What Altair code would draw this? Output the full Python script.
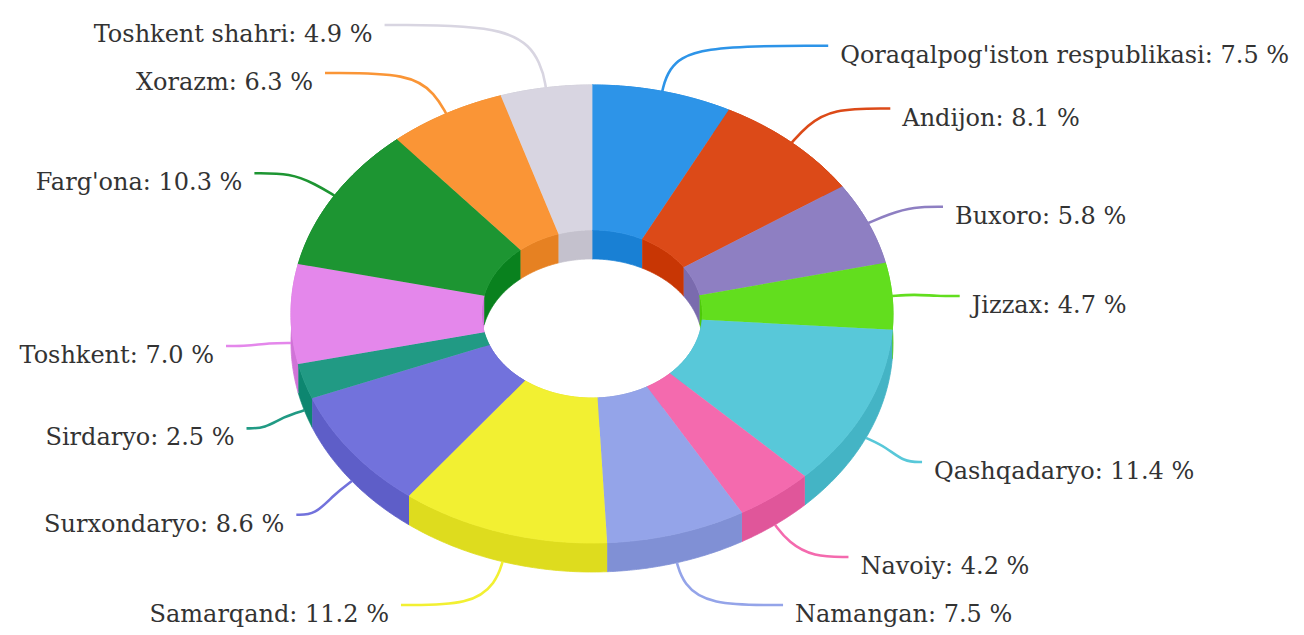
import math
import pandas as pd
import altair as alt

# ---------------- data ----------------
categories = ["Qoraqalpog'iston respublikasi", "Andijon", "Buxoro", "Jizzax",
              "Qashqadaryo", "Navoiy", "Namangan", "Samarqand", "Surxondaryo",
              "Sirdaryo", "Toshkent", "Farg'ona", "Xorazm", "Toshkent shahri"]
shares = [7.5, 8.1, 5.8, 4.7, 11.4, 4.2, 7.5, 11.2, 8.6, 2.5, 7.0, 10.3, 6.3, 4.9]
colors = ["#2d94e8", "#dc4a18", "#8e7fc2", "#62de1e", "#58c8d9", "#f46aae",
          "#94a4e9", "#f2f032", "#7272dc", "#219a84", "#e487eb", "#1d9532",
          "#fa9536", "#d8d5e1"]

# ---------------- layout / style ----------------
W, H = 1288, 619
UNIT = 301.0          # px per unit (outer x-radius)
CX, CY = 584.0, 306.0 # centre of top face, px in view
RY = 229.0 / UNIT     # vertical squash of the tilted ring
INNER = 0.367         # inner radius ratio
DEPTH = 29.0 / UNIT   # thickness of the ring
N = 60                # points per arc
FONT = "DejaVu Serif"
FSIZE = 24
MIN_GAP = 48.0
FRONT_SHIFT = 28.0


def darker(hexc, d=20):
    r, g, b = (int(hexc[i:i + 2], 16) for i in (1, 3, 5))
    return "#%02x%02x%02x" % (max(r - d, 0), max(g - d, 0), max(b - d, 0))


side_colors = [darker(c) for c in colors]

total = sum(shares)
starts, ends = [], []
acc = 0.0
for v in shares:
    starts.append(acc / total)
    acc += v
    ends.append(acc / total)

# polygon skeleton table: (slice, part, point index); geometry computed by Vega-Lite
poly_rows = []
for i, c in enumerate(categories):
    for part in ("outer", "inner", "top"):
        for k in range(2 * N + 2):
            poly_rows.append({
                "poly": f"{i}-{part}", "part": part, "k": k,
                "start": starts[i], "end": ends[i],
                "fillc": colors[i] if part == "top" else side_colors[i],
            })
poly = pd.DataFrame(poly_rows)

# ---------------- labels & connectors ----------------
lab = []
for i, c in enumerate(categories):
    a = 2 * math.pi * (starts[i] + ends[i]) / 2
    s, co = math.sin(a), math.cos(a)
    y = CY + 14 - 280 * co + (FRONT_SHIFT if co < 0 else 0)
    lab.append({"i": i, "a": a, "s": s, "co": co, "side": "R" if s >= 0 else "L", "y": y})

Y_MIN, Y_MAX = 16, H - 12
for side in ("R", "L"):
    items = sorted([d for d in lab if d["side"] == side], key=lambda d: d["y"])
    upper = [d for d in items if d["y"] < CY]
    lower = [d for d in items if d["y"] >= CY]
    for j in range(len(upper) - 2, -1, -1):
        if upper[j]["y"] > upper[j + 1]["y"] - MIN_GAP:
            upper[j]["y"] = upper[j + 1]["y"] - MIN_GAP
    for j in range(1, len(upper)):
        upper[0]["y"] = max(upper[0]["y"], Y_MIN)
        if upper[j]["y"] < upper[j - 1]["y"] + MIN_GAP:
            upper[j]["y"] = upper[j - 1]["y"] + MIN_GAP
    for j in range(1, len(lower)):
        if lower[j]["y"] < lower[j - 1]["y"] + MIN_GAP:
            lower[j]["y"] = lower[j - 1]["y"] + MIN_GAP
    if lower:
        lower[-1]["y"] = min(lower[-1]["y"], Y_MAX)
        for j in range(len(lower) - 2, -1, -1):
            if lower[j]["y"] > lower[j + 1]["y"] - MIN_GAP:
                lower[j]["y"] = lower[j + 1]["y"] - MIN_GAP
for d in lab:
    d["y"] = min(max(d["y"], Y_MIN), Y_MAX)


def ux(px):
    return (px - CX) / UNIT


def uy(py):
    return (CY - py) / UNIT


text_rows, conn_rows = [], []
for d in lab:
    i = d["i"]
    dirn = 1 if d["side"] == "R" else -1
    dy = d["y"] - CY - 6
    xo = 380 * math.sqrt(max(0.0, 1 - (dy / 349) ** 2))
    tx = CX + dirn * xo
    text_rows.append({"label": f"{categories[i]}: {shares[i]:.1f} %", "side": d["side"],
                      "x": ux(tx), "y": uy(d["y"])})
    s, co = d["s"], d["co"]
    sx = CX + UNIT * s
    sy = CY - 229 * co + (29 if co < 0 else 0)
    p1x, p1y = sx + 22 * s, sy - 22 * co
    ex, ey = tx - dirn * 12, d["y"] - 10
    mx = p1x + dirn * min(25, abs(ex - p1x) / 2)
    for j, (px, py) in enumerate([(sx, sy), (p1x, p1y), (mx, ey), (ex, ey)]):
        conn_rows.append({"cat": categories[i], "j": j, "x": ux(px), "y": uy(py), "col": colors[i]})

texts = pd.DataFrame(text_rows)
conns = pd.DataFrame(conn_rows)

xs = alt.Scale(domain=[ux(0), ux(W)], nice=False, zero=False)
ys = alt.Scale(domain=[uy(H), uy(0)], nice=False, zero=False)

base = alt.Chart(poly).transform_calculate(
    t=f"datum.k <= {N} ? datum.k / {N} : ({2 * N + 1} - datum.k) / {N}"
).transform_calculate(
    ang="2 * PI * (datum.start + (datum.end - datum.start) * datum.t)",
    r=f"datum.part == 'inner' ? {INNER} : (datum.part == 'outer' ? 1 : (datum.k <= {N} ? 1 : {INNER}))",
    dz=f"datum.part == 'top' ? 0 : (datum.k <= {N} ? 0 : {DEPTH})",
).transform_calculate(
    px="datum.r * sin(datum.ang)",
    py=f"datum.r * {RY} * cos(datum.ang) - datum.dz",
)

enc = dict(
    x=alt.X("px:Q", scale=xs, axis=None),
    y=alt.Y("py:Q", scale=ys, axis=None),
    order=alt.Order("k:Q"),
    detail=alt.Detail("poly:N"),
    fill=alt.Fill("fillc:N", scale=None),
    stroke=alt.Stroke("fillc:N", scale=None),
)

walls = base.transform_filter("datum.part != 'top'").mark_line(
    filled=True, strokeWidth=0.8).encode(**enc)
tops = base.transform_filter("datum.part == 'top'").mark_line(
    filled=True, strokeWidth=0.8).encode(**enc)

connectors = alt.Chart(conns).mark_line(interpolate="basis", strokeWidth=2.6).encode(
    x=alt.X("x:Q", scale=xs, axis=None),
    y=alt.Y("y:Q", scale=ys, axis=None),
    order=alt.Order("j:Q"),
    detail=alt.Detail("cat:N"),
    stroke=alt.Stroke("col:N", scale=None),
)

text_r = alt.Chart(texts).transform_filter("datum.side == 'R'").mark_text(
    align="left", baseline="middle", font=FONT, fontSize=FSIZE, color="#333333").encode(
    x=alt.X("x:Q", scale=xs, axis=None), y=alt.Y("y:Q", scale=ys, axis=None), text="label:N")
text_l = alt.Chart(texts).transform_filter("datum.side == 'L'").mark_text(
    align="right", baseline="middle", font=FONT, fontSize=FSIZE, color="#333333").encode(
    x=alt.X("x:Q", scale=xs, axis=None), y=alt.Y("y:Q", scale=ys, axis=None), text="label:N")

chart = alt.layer(walls, tops, connectors, text_r, text_l).properties(
    width=W, height=H, padding=0, background="white"
).configure_view(stroke=None)

chart.save("out.html", embed_options={"renderer": "svg", "actions": False})
